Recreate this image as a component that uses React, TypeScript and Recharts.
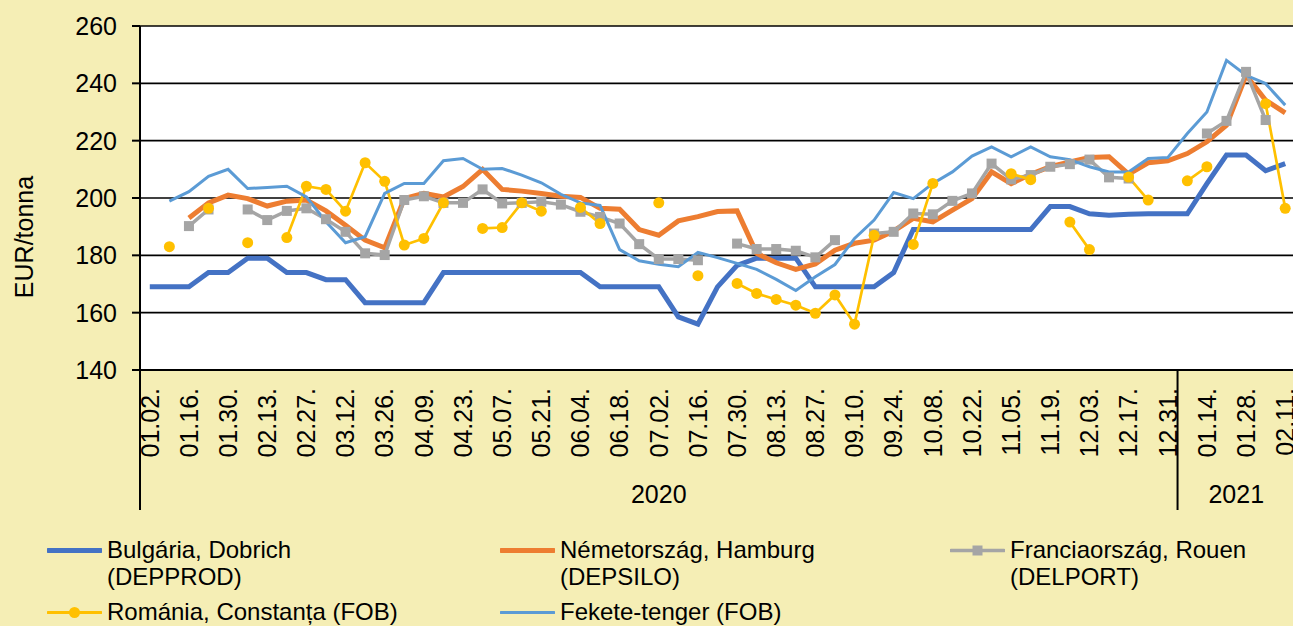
import React from "react";
import { LineChart, Line, XAxis, YAxis, CartesianGrid } from "recharts";

// weekly quotations, 2020-01-02 .. 2021-02-11
const weeks = [
  "01.02.", "01.09.", "01.16.", "01.23.", "01.30.", "02.06.", "02.13.", "02.20.", "02.27.", "03.05.",
  "03.12.", "03.19.", "03.26.", "04.02.", "04.09.", "04.16.", "04.23.", "04.30.", "05.07.", "05.14.",
  "05.21.", "05.28.", "06.04.", "06.11.", "06.18.", "06.25.", "07.02.", "07.09.", "07.16.", "07.23.",
  "07.30.", "08.06.", "08.13.", "08.20.", "08.27.", "09.03.", "09.10.", "09.17.", "09.24.", "10.01.",
  "10.08.", "10.15.", "10.22.", "10.29.", "11.05.", "11.12.", "11.19.", "11.26.", "12.03.", "12.10.",
  "12.17.", "12.24.", "12.31.", "01.07.", "01.14.", "01.21.", "01.28.", "02.04.", "02.11.",
];

const years = [
  { label: "2020", first: 0, last: 52 },
  { label: "2021", first: 53, last: 58 },
];

const bulgaria = [
  169, 169, 169, 174, 174, 179, 179, 174, 174, 171.5,
  171.5, 163.5, 163.5, 163.5, 163.5, 174, 174, 174, 174, 174,
  174, 174, 174, 169, 169, 169, 169, 158.5, 156, 169,
  176.5, 179, 179, 179, 169, 169, 169, 169, 174, 189,
  189, 189, 189, 189, 189, 189, 197, 197, 194.5, 194,
  194.3, 194.5, 194.5, 194.5, 205, 215, 215, 209.5, 212,
];

const germany = [
  null, null, 193, 198.3, 201, 199.8, 197.2, 198.9, 199.3, 195.5,
  190.5, 185.3, 182.6, 199.8, 201.6, 200.4, 204, 210, 203, 202.4,
  201.6, 200.6, 200.2, 196.4, 196.1, 189, 187, 192, 193.5, 195.3,
  195.5, 180.7, 177.4, 175.1, 177, 181.8, 184.2, 185.3, 188.5, 192.9,
  191.7, 195.8, 199.8, 209.1, 205, 208.3, 210.9, 212.6, 214.1, 214.4,
  208.3, 212.3, 213, 215.5, 219.6, 225.4, 242.8, 234.1, 229.7,
];

const france = [
  null, null, 190.2, 196, null, 196, 192.3, 195.5, 196.4, 192.6,
  188.2, 180.7, 180.1, 199.3, 200.6, 198.3, 198.3, 203, 198.1, 198.3,
  198.7, 197.7, 195.2, 193.4, 191.1, 183.9, 178.7, 178.7, 178.3, null,
  184.1, 182.2, 182.2, 181.6, 179.3, 185.3, null, 187.6, 188.2, 194.6,
  194.3, 199, 201.6, 212, 206.5, 208, 210.9, 211.8, 213.4, 207.2,
  206.8, null, null, null, 222.5, 226.9, 244, 227.2, null,
];

const romania = [
  null, 183, null, 196.4, null, 184.4, null, 186.2, 204.1, 203,
  195.4, 212.3, 205.8, 183.6, 185.9, 198.3, null, 189.4, 189.7, 198.3,
  195.4, null, 196.7, 191.1, null, null, 198.3, null, 172.9, null,
  170.2, 166.7, 164.6, 162.6, 159.8, 166.2, 156, 187, null, 183.8,
  205.1, null, null, null, 208.5, 206.4, null, 191.6, 182, null,
  207.3, 199.3, null, 206, 210.9, null, null, 232.9, 196.4,
];

const blackSea = [
  null, 198.9, 202.2, 207.6, 210, 203.3, 203.7, 204.1, 200.4, 191.7,
  184.4, 186.5, 201.6, 205.1, 205.1, 213, 213.8, 210, 210.3, 208,
  205.3, 201.3, 198.3, 197.4, 182, 178.1, 176.9, 176, 181, 179.2,
  177.2, 175.1, 171.6, 167.7, 172.5, 176.8, 185.9, 192.3, 201.9, 199.8,
  205.1, 209.1, 214.6, 217.8, 214.4, 217.8, 214.4, 213.4, 210.9, 209.1,
  209.1, 213.8, 214.1, 222.5, 230, 248, 242.8, 239.9, 232.4,
];

const yTicks = [140, 160, 180, 200, 220, 240, 260];

const data = weeks.map((week, i) => ({
  week,
  bulgaria: bulgaria[i],
  germany: germany[i],
  france: france[i],
  romania: romania[i],
  blackSea: blackSea[i],
}));

const FONT = '"Liberation Sans", Arial, sans-serif';
const BG = "#F5EEB5";
const CHART_W = 1300;
const CHART_H = 626;
const MARGIN = { top: 26, right: 5, bottom: 116, left: 0 };
const Y_W = 140;
const X_H = 140;
const STEP = (CHART_W - MARGIN.left - MARGIN.right - Y_W) / weeks.length;

const C = {
  bulgaria: "#4472C4",
  germany: "#ED7D31",
  france: "#A5A5A5",
  romania: "#FFC000",
  blackSea: "#5B9BD5",
};

const DateTick = (props: any) => {
  const { x, y, payload } = props;
  const i = props.index ?? payload.index;
  const group = years.find((g) => g.first === i);
  return (
    <g>
      {i % 2 === 0 && (
        <text
          x={x}
          y={y + 18}
          dy="0.35em"
          textAnchor="end"
          transform={`rotate(-90, ${x}, ${y + 18})`}
          fill="#000"
          fontSize={25}
          fontFamily={FONT}
        >
          {payload.value}
        </text>
      )}
      {group && (
        <>
          <line x1={x - STEP / 2} y1={y} x2={x - STEP / 2} y2={y + X_H} stroke="#000" strokeWidth={2} />
          <text
            x={x + ((group.last - group.first) * STEP) / 2}
            y={y + 124}
            dy="0.35em"
            textAnchor="middle"
            fill="#000"
            fontSize={25}
            fontFamily={FONT}
          >
            {group.label}
          </text>
        </>
      )}
    </g>
  );
};

const SquareDot = (p: any) => {
  if (p.value == null || p.cx == null || p.cy == null) return <g key={`sq-${p.index}`} />;
  return <rect key={`sq-${p.index}`} x={p.cx - 5} y={p.cy - 5} width={10} height={10} fill={C.france} />;
};

const YLabel = (props: any) => {
  const vb = props.viewBox || { y: 26, height: 344 };
  const cy = vb.y + vb.height / 2 + 39;
  return (
    <text
      x={24}
      y={cy}
      dy="0.35em"
      textAnchor="middle"
      transform={`rotate(-90, 24, ${cy})`}
      fill="#000"
      fontSize={25}
      fontFamily={FONT}
    >
      EUR/tonna
    </text>
  );
};

const legendItems = [
  { key: "bulgaria", lines: ["Bulgária, Dobrich", "(DEPPROD)"], width: 5, marker: "none" },
  { key: "germany", lines: ["Németország, Hamburg", "(DEPSILO)"], width: 5, marker: "none" },
  { key: "france", lines: ["Franciaország, Rouen", "(DELPORT)"], width: 3.5, marker: "square" },
  { key: "romania", lines: ["Románia, Constanța (FOB)"], width: 3, marker: "circle" },
  { key: "blackSea", lines: ["Fekete-tenger (FOB)"], width: 3, marker: "none" },
];

const LegendIcon = ({ color, width, marker }: { color: string; width: number; marker: string }) => (
  <svg width={55} height={27} style={{ flex: "none" }}>
    <line x1={1} y1={14.5} x2={54} y2={14.5} stroke={color} strokeWidth={width} strokeLinecap="round" />
    {marker === "square" && <rect x={22.5} y={9.5} width={10} height={10} fill={color} />}
    {marker === "circle" && <circle cx={27.5} cy={14.5} r={5.5} fill={color} />}
  </svg>
);

const ChartLegend = () => (
  <div
    style={{
      position: "absolute",
      left: 47,
      top: 536,
      display: "grid",
      gridTemplateColumns: "453px 450px 300px",
      rowGap: 8,
      fontFamily: FONT,
      fontSize: 24,
      lineHeight: "27px",
      color: "#000",
    }}
  >
    {legendItems.map((it) => (
      <div key={it.key} style={{ display: "flex", alignItems: "flex-start", gap: 5 }}>
        <LegendIcon color={(C as any)[it.key]} width={it.width} marker={it.marker} />
        <div>
          {it.lines.map((l) => (
            <div key={l} style={{ whiteSpace: "nowrap" }}>
              {l}
            </div>
          ))}
        </div>
      </div>
    ))}
  </div>
);

export default function App() {
  return (
    <div
      style={{
        position: "absolute",
        left: 0,
        top: 0,
        width: 1293,
        height: 626,
        overflow: "hidden",
        background: BG,
      }}
    >
      <LineChart width={CHART_W} height={CHART_H} data={data} margin={MARGIN}>
        <CartesianGrid vertical={false} stroke="#000" strokeWidth={1.6} fill="#fff" />
        <XAxis
          dataKey="week"
          scale="point"
          interval={0}
          height={X_H}
          tickLine={false}
          tickSize={0}
          tickMargin={0}
          padding={{ left: STEP / 2, right: STEP / 2 }}
          axisLine={{ stroke: "#000", strokeWidth: 2 }}
          tick={<DateTick />}
        />
        <YAxis
          width={Y_W}
          domain={[140, 260]}
          ticks={yTicks}
          interval={0}
          tickSize={8}
          tickMargin={15}
          axisLine={{ stroke: "#000", strokeWidth: 2 }}
          tickLine={{ stroke: "#000", strokeWidth: 2 }}
          tick={{ fill: "#000", fontSize: 25, fontFamily: FONT }}
          label={<YLabel />}
        />
        <Line dataKey="bulgaria" stroke={C.bulgaria} strokeWidth={5} dot={false} activeDot={false} isAnimationActive={false} />
        <Line dataKey="germany" stroke={C.germany} strokeWidth={5} dot={false} activeDot={false} isAnimationActive={false} />
        <Line dataKey="france" stroke={C.france} strokeWidth={3.5} dot={SquareDot} activeDot={false} isAnimationActive={false} />
        <Line
          dataKey="romania"
          stroke={C.romania}
          strokeWidth={2.7}
          dot={{ r: 5.5, fill: C.romania, stroke: C.romania, strokeWidth: 0 }}
          activeDot={false}
          isAnimationActive={false}
        />
        <Line dataKey="blackSea" stroke={C.blackSea} strokeWidth={3} dot={false} activeDot={false} isAnimationActive={false} />
      </LineChart>
      <ChartLegend />
    </div>
  );
}
